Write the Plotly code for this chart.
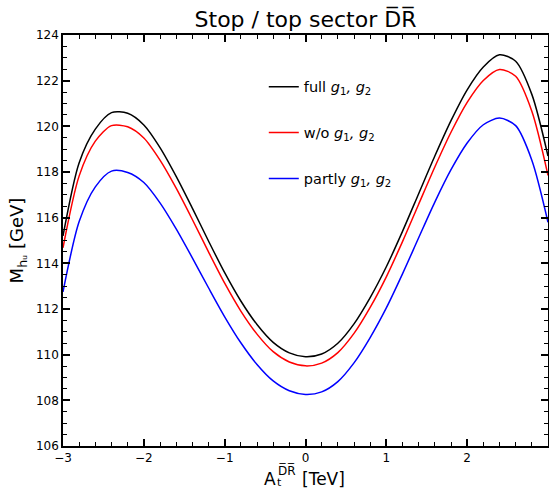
import plotly.graph_objects as go

a_t = [-3.0, -2.8, -2.6, -2.4, -2.2, -2.0, -1.8, -1.6, -1.4, -1.2, -1.0, -0.8, -0.6, -0.4, -0.2,
       0.0, 0.2, 0.4, 0.6, 0.8, 1.0, 1.2, 1.4, 1.6, 1.8, 2.0, 2.2, 2.4, 2.6, 2.8, 3.0]

m_full = [115.20, 118.41, 119.88, 120.60, 120.57, 120.06, 119.07, 117.81, 116.42, 114.98, 113.59,
          112.35, 111.32, 110.54, 110.08, 109.91, 110.03, 110.50, 111.35, 112.50, 113.85, 115.40,
          117.05, 118.70, 120.25, 121.60, 122.60, 123.13, 122.85, 121.40, 118.70]

m_wo = [114.68, 117.83, 119.35, 120.03, 119.98, 119.49, 118.52, 117.29, 115.92, 114.50, 113.13,
        111.91, 110.90, 110.13, 109.68, 109.51, 109.63, 110.09, 110.93, 112.07, 113.41, 114.95,
        116.59, 118.22, 119.74, 121.05, 122.01, 122.49, 122.19, 120.66, 117.85]

m_partly = [112.75, 115.83, 117.35, 118.04, 117.98, 117.54, 116.65, 115.51, 114.24, 112.93, 111.66,
            110.52, 109.57, 108.85, 108.42, 108.26, 108.37, 108.82, 109.64, 110.75, 112.05, 113.54,
            115.12, 116.68, 118.10, 119.27, 120.07, 120.36, 120.03, 118.52, 115.80]

names = ["full <i>g</i><sub>1</sub><i>, g</i><sub>2</sub>",
         "w/o <i>g</i><sub>1</sub><i>, g</i><sub>2</sub>",
         "partly <i>g</i><sub>1</sub><i>, g</i><sub>2</sub>"]
colors = ["#000000", "#ff0000", "#0000ff"]

fig = go.Figure()
for i, (ys, nm, c) in enumerate(zip([m_full, m_wo, m_partly], names, colors)):
    fig.add_trace(go.Scatter(x=a_t, y=ys, mode="lines", name=nm, legendgroup=str(i),
                             line=dict(color=c, width=1.5, shape="spline", smoothing=0.8)))

font = "DejaVu Sans, Verdana, sans-serif"
axis_common = dict(showline=True, linecolor="black", linewidth=1.5, mirror="ticks",
                   ticks="inside", ticklen=7, tickwidth=1.5, tickcolor="black",
                   showgrid=False, zeroline=False, automargin=False,
                   tickfont=dict(family=font, size=12, color="black"))


def label(text, x, y, size, anchor="left"):
    return dict(text=text, xref="paper", yref="paper", x=x, y=y, xanchor=anchor,
                yanchor="middle", showarrow=False, borderpad=0,
                font=dict(family=font, size=size, color="black"))


fig.update_layout(
    width=549, height=488,
    margin=dict(l=63, r=1, t=35, b=42, autoexpand=False),
    paper_bgcolor="white", plot_bgcolor="white",
    font=dict(family=font, color="black"),
    title=dict(text="Stop / top sector D\u0305R\u0305", x=0.5, xref="paper", xanchor="center",
               y=0.976, yref="container", yanchor="top",
               font=dict(family=font, size=22, color="black")),
    xaxis=dict(range=[-3, 3], dtick=1, tick0=0,
               minor=dict(dtick=0.2, ticks="inside", ticklen=4, tickwidth=1, tickcolor="black"),
               **axis_common),
    yaxis=dict(range=[106, 124], dtick=2, tick0=106,
               minor=dict(dtick=0.5, ticks="inside", ticklen=4, tickwidth=1, tickcolor="black"),
               **axis_common),
    legend=dict(x=0.414, y=0.913, xanchor="left", yanchor="top", bgcolor="rgba(0,0,0,0)",
                borderwidth=0, font=dict(family=font, size=14.5, color="black"),
                tracegroupgap=24, itemwidth=30),
    showlegend=True,
    annotations=[
        label("A", 0.4124, -0.0803, 17),
        label("D\u0305R\u0305", 0.4412, -0.0600, 12),
        label("t", 0.4392, -0.0885, 11),
        label("[TeV]", 0.4907, -0.0803, 17),
        dict(text="M<sub>h\u1d64</sub> [GeV]", xref="paper", yref="paper",
             x=-0.093, y=0.5, xanchor="center", yanchor="middle", showarrow=False, textangle=-90,
             font=dict(family=font, size=18, color="black")),
    ],
)

fig.write_html("out.html", config={"displayModeBar": False},
               post_script="document.body.style.margin='0';")
